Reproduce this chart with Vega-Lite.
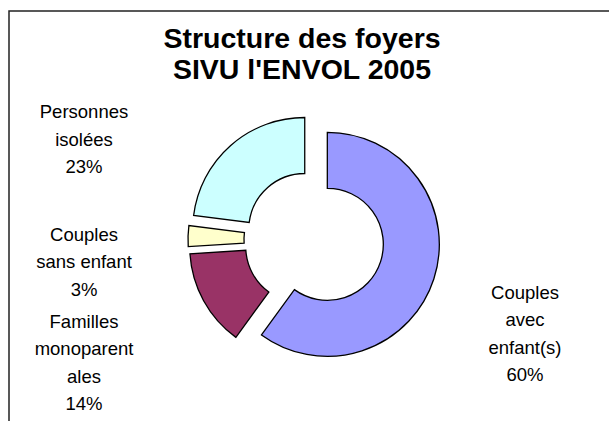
{
  "$schema": "https://vega.github.io/schema/vega-lite/v6.json",
  "width": 610,
  "height": 458,
  "autosize": "none",
  "padding": {"left": 9, "top": 11, "right": -10, "bottom": -48},
  "background": "white",
  "view": {"stroke": "#222222", "strokeWidth": 1.5, "fill": "white"},
  "config": {
    "view": {"stroke": "#222222", "strokeWidth": 1.5},
    "font": "Liberation Sans"
  },
  "title": {
    "text": ["Structure des foyers", "SIVU l'ENVOL 2005"],
    "fontSize": 28.5,
    "fontWeight": "bold",
    "font": "Liberation Sans",
    "color": "black",
    "lineHeight": 31,
    "anchor": "middle",
    "frame": "group",
    "offset": -73.5,
    "dx": -12
  },
  "data": {
    "values": [
      {"categorie": "Couples avec enfant(s)", "libelle": "Couples\navec\nenfant(s)\n60%", "part": 60, "ordre": 1},
      {"categorie": "Familles monoparentales", "libelle": "Familles\nmonoparent\nales\n14%", "part": 14, "ordre": 2},
      {"categorie": "Couples sans enfant", "libelle": "Couples\nsans enfant\n3%", "part": 3, "ordre": 3},
      {"categorie": "Personnes isolées", "libelle": "Personnes\nisolées\n23%", "part": 23, "ordre": 4}
    ]
  },
  "encoding": {
    "theta": {"field": "part", "type": "quantitative", "stack": true},
    "order": {"field": "ordre", "type": "quantitative"}
  },
  "layer": [
    {
      "mark": {
        "type": "arc",
        "radius": 112,
        "radius2": 56,
        "stroke": "black",
        "strokeWidth": 1.3,
        "xOffset": {"expr": "14*sin(scale('theta',(datum.part_start+datum.part_end)/2))"},
        "yOffset": {"expr": "-14*cos(scale('theta',(datum.part_start+datum.part_end)/2))"}
      },
      "encoding": {
        "color": {
          "field": "categorie",
          "type": "nominal",
          "scale": {
            "domain": ["Couples avec enfant(s)", "Familles monoparentales", "Couples sans enfant", "Personnes isolées"],
            "range": ["#9999FF", "#993366", "#FFFFCC", "#CCFFFF"]
          },
          "legend": null
        }
      }
    },
    {
      "mark": {
        "type": "text",
        "radius": 0,
        "x": {"expr": "width/2 + (sin(scale('theta',(datum.part_start+datum.part_end)/2)) < 0 ? -230 : 211)"},
        "y": {"expr": "height/2 - 170*cos(scale('theta',(datum.part_start+datum.part_end)/2))"},
        "fontSize": 18.5,
        "lineBreak": "\n",
        "lineHeight": 27.5,
        "color": "black",
        "align": "center",
        "baseline": "middle"
      },
      "encoding": {
        "text": {"field": "libelle", "type": "nominal"}
      }
    }
  ]
}
